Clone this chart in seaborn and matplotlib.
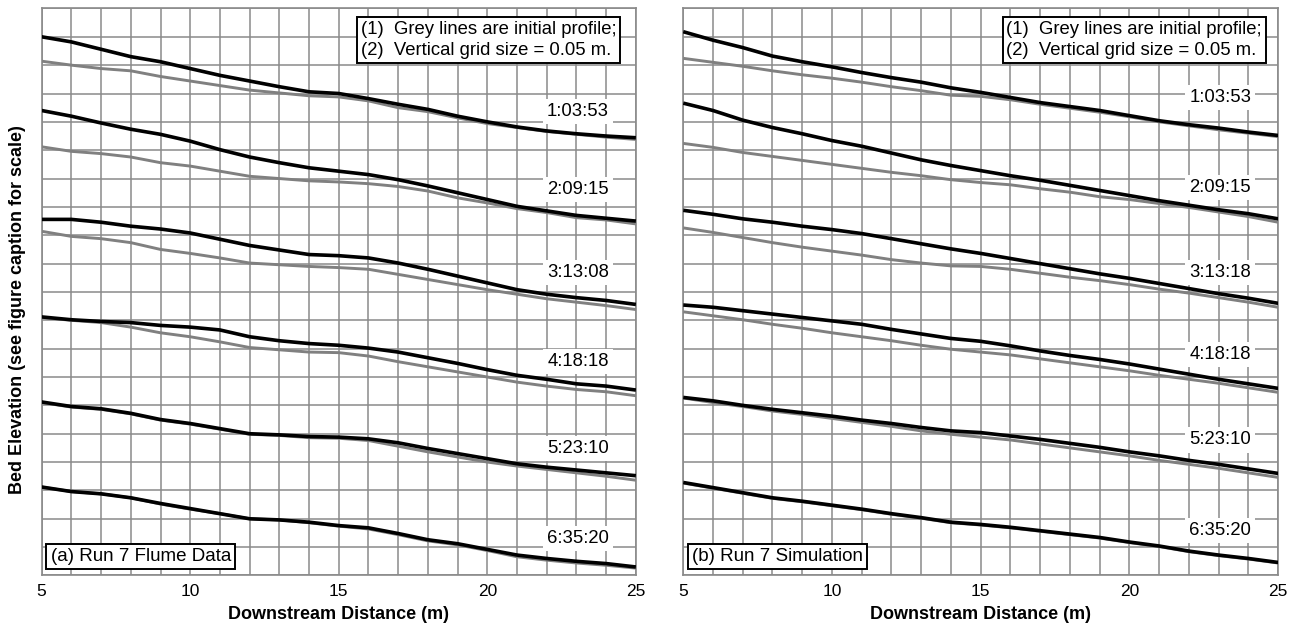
import matplotlib
matplotlib.use("Agg")
import matplotlib.pyplot as plt
import seaborn as sns
import pandas as pd

# Downstream distance (m) at which each bed profile is sampled
distance = list(range(5, 26))

# Elapsed run times labelling each profile pair
times_flume = ["1:03:53", "2:09:15", "3:13:08", "4:18:18", "5:23:10", "6:35:20"]
times_sim = ["1:03:53", "2:09:15", "3:13:18", "4:18:18", "5:23:10", "6:35:20"]

# (a) Run 7 flume data: measured bed elevation (m, stacked offsets)
flume_measured_1 = [0.950, 0.941, 0.928, 0.915, 0.906, 0.894, 0.882, 0.872, 0.862, 0.853, 0.850,
                    0.841, 0.831, 0.822, 0.810, 0.800, 0.791, 0.784, 0.779, 0.775, 0.772]
flume_measured_2 = [0.820, 0.810, 0.798, 0.787, 0.778, 0.766, 0.751, 0.738, 0.728, 0.719, 0.713,
                    0.707, 0.698, 0.687, 0.675, 0.663, 0.651, 0.643, 0.635, 0.630, 0.625]
flume_measured_3 = [0.628, 0.628, 0.623, 0.616, 0.611, 0.604, 0.593, 0.582, 0.574, 0.566, 0.564,
                    0.560, 0.551, 0.540, 0.528, 0.516, 0.504, 0.496, 0.490, 0.485, 0.478]
flume_measured_4 = [0.456, 0.451, 0.448, 0.446, 0.441, 0.438, 0.433, 0.421, 0.414, 0.409, 0.406,
                    0.401, 0.394, 0.384, 0.374, 0.363, 0.353, 0.346, 0.338, 0.334, 0.327]
flume_measured_5 = [0.306, 0.298, 0.294, 0.286, 0.275, 0.268, 0.259, 0.250, 0.248, 0.245, 0.244,
                    0.241, 0.234, 0.224, 0.215, 0.206, 0.197, 0.191, 0.186, 0.181, 0.176]
flume_measured_6 = [0.156, 0.148, 0.144, 0.137, 0.127, 0.118, 0.109, 0.100, 0.098, 0.094, 0.088,
                    0.084, 0.074, 0.063, 0.056, 0.046, 0.036, 0.030, 0.025, 0.021, 0.015]

# (a) initial profiles (grey)
flume_initial_1 = [0.907, 0.900, 0.894, 0.890, 0.880, 0.872, 0.864, 0.856, 0.851, 0.846, 0.844,
                   0.837, 0.825, 0.818, 0.807, 0.797, 0.790, 0.783, 0.778, 0.773, 0.769]
flume_initial_2 = [0.756, 0.748, 0.744, 0.738, 0.728, 0.722, 0.713, 0.704, 0.700, 0.696, 0.694,
                   0.691, 0.686, 0.678, 0.666, 0.657, 0.647, 0.640, 0.631, 0.627, 0.620]
flume_initial_3 = [0.607, 0.598, 0.594, 0.587, 0.575, 0.568, 0.560, 0.551, 0.548, 0.545, 0.543,
                   0.540, 0.531, 0.522, 0.513, 0.504, 0.496, 0.488, 0.482, 0.476, 0.469]
flume_initial_4 = [0.455, 0.450, 0.446, 0.438, 0.428, 0.421, 0.412, 0.402, 0.398, 0.394, 0.393,
                   0.387, 0.377, 0.368, 0.359, 0.350, 0.341, 0.334, 0.328, 0.324, 0.317]
flume_initial_5 = [0.305, 0.297, 0.293, 0.285, 0.274, 0.267, 0.258, 0.249, 0.247, 0.243, 0.242,
                   0.238, 0.228, 0.218, 0.209, 0.200, 0.193, 0.187, 0.181, 0.175, 0.168]
flume_initial_6 = [0.156, 0.148, 0.144, 0.137, 0.126, 0.117, 0.109, 0.100, 0.098, 0.093, 0.087,
                   0.082, 0.072, 0.061, 0.054, 0.044, 0.033, 0.027, 0.022, 0.018, 0.013]

# (b) Run 7 simulation: computed bed elevation (m, stacked offsets)
sim_measured_1 = [0.959, 0.944, 0.931, 0.916, 0.906, 0.897, 0.887, 0.878, 0.870, 0.860, 0.852,
                  0.843, 0.834, 0.827, 0.820, 0.811, 0.802, 0.795, 0.789, 0.782, 0.776]
sim_measured_2 = [0.833, 0.820, 0.803, 0.790, 0.779, 0.767, 0.757, 0.745, 0.733, 0.723, 0.714,
                  0.705, 0.697, 0.688, 0.679, 0.670, 0.661, 0.653, 0.645, 0.638, 0.629]
sim_measured_3 = [0.644, 0.637, 0.629, 0.623, 0.616, 0.610, 0.603, 0.594, 0.585, 0.576, 0.568,
                  0.559, 0.550, 0.541, 0.532, 0.524, 0.515, 0.506, 0.497, 0.489, 0.480]
sim_measured_4 = [0.477, 0.473, 0.467, 0.461, 0.455, 0.449, 0.443, 0.434, 0.426, 0.418, 0.413,
                  0.405, 0.396, 0.388, 0.381, 0.373, 0.364, 0.355, 0.346, 0.338, 0.330]
sim_measured_5 = [0.314, 0.308, 0.300, 0.293, 0.287, 0.281, 0.274, 0.268, 0.261, 0.255, 0.252,
                  0.246, 0.240, 0.233, 0.226, 0.218, 0.211, 0.203, 0.196, 0.188, 0.180]
sim_measured_6 = [0.164, 0.155, 0.146, 0.137, 0.131, 0.124, 0.117, 0.109, 0.102, 0.094, 0.090,
                  0.085, 0.079, 0.073, 0.067, 0.059, 0.052, 0.043, 0.036, 0.030, 0.023]

# (b) initial profiles (grey)
sim_initial_1 = [0.912, 0.905, 0.898, 0.890, 0.883, 0.877, 0.870, 0.862, 0.855, 0.847, 0.845,
                 0.839, 0.831, 0.824, 0.817, 0.809, 0.800, 0.793, 0.786, 0.780, 0.774]
sim_initial_2 = [0.762, 0.755, 0.746, 0.739, 0.732, 0.725, 0.718, 0.711, 0.705, 0.698, 0.693,
                 0.689, 0.682, 0.676, 0.668, 0.663, 0.656, 0.649, 0.641, 0.633, 0.623]
sim_initial_3 = [0.613, 0.605, 0.596, 0.587, 0.579, 0.572, 0.565, 0.557, 0.551, 0.546, 0.545,
                 0.540, 0.533, 0.526, 0.520, 0.513, 0.505, 0.498, 0.490, 0.482, 0.473]
sim_initial_4 = [0.465, 0.458, 0.451, 0.443, 0.436, 0.428, 0.421, 0.414, 0.406, 0.399, 0.394,
                 0.389, 0.382, 0.375, 0.368, 0.361, 0.353, 0.346, 0.339, 0.331, 0.323]
sim_initial_5 = [0.313, 0.305, 0.298, 0.290, 0.284, 0.277, 0.270, 0.263, 0.255, 0.249, 0.244,
                 0.239, 0.232, 0.225, 0.218, 0.211, 0.203, 0.196, 0.189, 0.181, 0.173]
sim_initial_6 = [0.163, 0.154, 0.145, 0.136, 0.130, 0.123, 0.116, 0.108, 0.101, 0.093, 0.089,
                 0.084, 0.078, 0.072, 0.066, 0.058, 0.051, 0.042, 0.035, 0.029, 0.022]

flume_measured = [flume_measured_1, flume_measured_2, flume_measured_3,
                  flume_measured_4, flume_measured_5, flume_measured_6]
flume_initial = [flume_initial_1, flume_initial_2, flume_initial_3,
                 flume_initial_4, flume_initial_5, flume_initial_6]
sim_measured = [sim_measured_1, sim_measured_2, sim_measured_3,
                sim_measured_4, sim_measured_5, sim_measured_6]
sim_initial = [sim_initial_1, sim_initial_2, sim_initial_3,
               sim_initial_4, sim_initial_5, sim_initial_6]

# Where the time tags sit (x in m, y in m)
tag_x = 23.05
tag_y_flume = [0.818, 0.680, 0.534, 0.378, 0.224, 0.065]
tag_y_sim = [0.843, 0.684, 0.535, 0.390, 0.239, 0.080]

sns.set_theme(style="white")
plt.rcParams["font.family"] = ["Liberation Sans", "DejaVu Sans"]
plt.rcParams["text.color"] = "black"
plt.rcParams["axes.labelcolor"] = "black"
plt.rcParams["xtick.color"] = "black"

GRID = "#8a8a8a"
GREY = "#808080"

fig = plt.figure(figsize=(12.98, 6.26), dpi=100)
ax_a = fig.add_axes([0.0321, 0.0807, 0.4578, 0.9058])
ax_b = fig.add_axes([0.5264, 0.0807, 0.4583, 0.9058])


def long_frame(profiles):
    rows = []
    for i, prof in enumerate(profiles):
        for d, z in zip(distance, prof):
            rows.append({"distance": d, "elevation": z, "profile": i})
    return pd.DataFrame(rows)


def draw_panel(ax, measured, initial, times, tag_y, panel_text, note_x):
    df_init = long_frame(initial)
    df_meas = long_frame(measured)
    sns.lineplot(data=df_init, x="distance", y="elevation", units="profile",
                 estimator=None, color=GREY, lw=2.1, ax=ax, zorder=3,
                 solid_joinstyle="round", solid_capstyle="butt")
    sns.lineplot(data=df_meas, x="distance", y="elevation", units="profile",
                 estimator=None, color="black", lw=2.6, ax=ax, zorder=4,
                 solid_joinstyle="round", solid_capstyle="butt")

    ax.set_xlim(5, 25)
    ax.set_ylim(0, 1.0)
    ax.set_xticks([5, 10, 15, 20, 25])
    ax.set_xticks(range(5, 26), minor=True)
    ax.set_yticks([i * 0.05 for i in range(21)])
    ax.set_yticklabels([])
    ax.grid(True, which="both", color=GRID, lw=1.1)
    ax.set_axisbelow(True)
    ax.tick_params(axis="both", which="both", length=0)
    ax.tick_params(axis="x", labelsize=12.5, pad=6, labelcolor="black")
    for s in ax.spines.values():
        s.set_color(GRID)
        s.set_linewidth(1.2)
    ax.set_xlabel("Downstream Distance (m)", fontsize=13, fontweight="bold",
                  labelpad=5, color="black")
    ax.set_ylabel("")

    for t, y in zip(times, tag_y):
        ax.text(tag_x, y, t, fontsize=13.3, ha="center", va="center", zorder=5,
                bbox=dict(boxstyle="square,pad=0.22", fc="white", ec="none"))

    ax.text(note_x, 0.978,
            "(1)  Grey lines are initial profile;\n(2)  Vertical grid size = 0.05 m.",
            transform=ax.transAxes, fontsize=13.3, ha="left", va="top",
            linespacing=1.3, zorder=6,
            bbox=dict(boxstyle="square,pad=0.2", fc="white", ec="black", lw=1.4))

    ax.text(0.015, 0.033, panel_text, transform=ax.transAxes, fontsize=13.5,
            ha="left", va="center", zorder=6,
            bbox=dict(boxstyle="square,pad=0.22", fc="white", ec="black", lw=1.4))


draw_panel(ax_a, flume_measured, flume_initial, times_flume, tag_y_flume,
           "(a) Run 7 Flume Data", 0.537)
draw_panel(ax_b, sim_measured, sim_initial, times_sim, tag_y_sim,
           "(b) Run 7 Simulation", 0.543)

fig.text(18 / 1298, 1 - 310 / 626, "Bed Elevation (see figure caption for scale)",
         rotation=90, fontsize=13, fontweight="bold", ha="center", va="center",
         color="black")

fig.savefig("out.png", dpi=100, facecolor="white")
